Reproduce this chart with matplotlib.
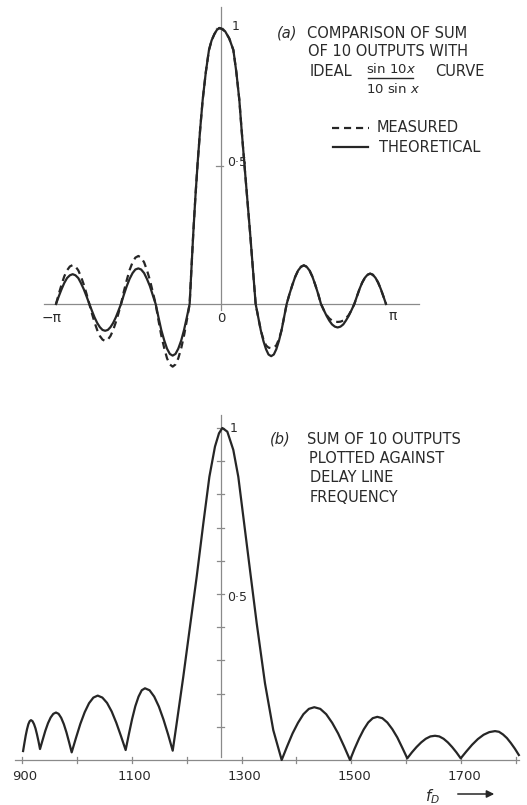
import matplotlib
matplotlib.use("Agg")
import matplotlib.pyplot as plt
from matplotlib.lines import Line2D
from matplotlib.patches import FancyArrowPatch

# ---------------- data: panel (a) ----------------
# x in units of pi
x_pi = [-1.000, -0.983, -0.966, -0.950, -0.933, -0.916, -0.899, -0.882, -0.865, -0.849, -0.832, -0.815,
        -0.798, -0.782, -0.766, -0.750, -0.734, -0.718, -0.702, -0.686, -0.670, -0.654, -0.638, -0.622,
        -0.606, -0.589, -0.571, -0.554, -0.536, -0.519, -0.501, -0.484, -0.466, -0.449, -0.431, -0.414,
        -0.396, -0.379, -0.362, -0.344, -0.327, -0.310, -0.293, -0.276, -0.259, -0.241, -0.224, -0.207,
        -0.190, -0.179, -0.168, -0.155, -0.141, -0.126, -0.111, -0.092, -0.073, -0.057, -0.040, -0.025,
        -0.010, 0.005, 0.025, 0.050, 0.075, 0.093, 0.111, 0.125, 0.140, 0.158, 0.176, 0.193,
        0.210, 0.226, 0.241, 0.257, 0.273, 0.288, 0.304, 0.320, 0.335, 0.351, 0.367, 0.382,
        0.398, 0.415, 0.433, 0.450, 0.467, 0.485, 0.502, 0.519, 0.537, 0.554, 0.571, 0.589,
        0.606, 0.623, 0.640, 0.656, 0.673, 0.690, 0.707, 0.724, 0.741, 0.757, 0.774, 0.791,
        0.808, 0.824, 0.840, 0.856, 0.872, 0.888, 0.904, 0.920, 0.936, 0.952, 0.968, 0.984, 1.000]

theoretical = [0, 0.028, 0.054, 0.076, 0.094, 0.104, 0.108, 0.104, 0.094, 0.076, 0.054, 0.028,
               0, -0.025, -0.049, -0.069, -0.084, -0.094, -0.097, -0.094, -0.084, -0.069, -0.049, -0.025,
               0, 0.033, 0.065, 0.091, 0.112, 0.125, 0.129, 0.125, 0.112, 0.091, 0.065, 0.033,
               0, -0.048, -0.094, -0.132, -0.162, -0.181, -0.187, -0.181, -0.162, -0.132, -0.094, -0.048,
               0, 0.130, 0.257, 0.390, 0.516, 0.635, 0.740, 0.840, 0.920, 0.955, 0.978, 0.993,
               1.000, 0.997, 0.988, 0.962, 0.920, 0.840, 0.740, 0.630, 0.520, 0.390, 0.260, 0.130,
               0, -0.049, -0.095, -0.134, -0.164, -0.183, -0.189, -0.183, -0.164, -0.134, -0.095, -0.049,
               0, 0.036, 0.070, 0.099, 0.121, 0.135, 0.140, 0.135, 0.121, 0.099, 0.070, 0.036,
               0, -0.022, -0.043, -0.060, -0.074, -0.082, -0.085, -0.082, -0.074, -0.060, -0.043, -0.022,
               0, 0.028, 0.055, 0.078, 0.095, 0.106, 0.110, 0.106, 0.095, 0.078, 0.055, 0.028, 0]

measured = [0, 0.037, 0.071, 0.100, 0.122, 0.136, 0.141, 0.136, 0.122, 0.100, 0.071, 0.037,
            0, -0.035, -0.067, -0.095, -0.116, -0.129, -0.134, -0.129, -0.116, -0.095, -0.067, -0.035,
            0, 0.045, 0.087, 0.123, 0.151, 0.168, 0.174, 0.168, 0.151, 0.123, 0.087, 0.045,
            0, -0.059, -0.114, -0.160, -0.197, -0.219, -0.227, -0.219, -0.197, -0.160, -0.114, -0.059,
            0, 0.130, 0.257, 0.390, 0.516, 0.635, 0.740, 0.840, 0.920, 0.955, 0.978, 0.993,
            1.000, 0.997, 0.988, 0.962, 0.920, 0.840, 0.740, 0.630, 0.520, 0.390, 0.260, 0.130,
            0, -0.049, -0.095, -0.128, -0.150, -0.158, -0.160, -0.158, -0.150, -0.128, -0.095, -0.049,
            0, 0.036, 0.070, 0.099, 0.121, 0.135, 0.140, 0.135, 0.121, 0.099, 0.070, 0.036,
            0, -0.022, -0.040, -0.052, -0.060, -0.064, -0.065, -0.064, -0.060, -0.052, -0.040, -0.022,
            0, 0.028, 0.055, 0.078, 0.095, 0.106, 0.110, 0.106, 0.095, 0.078, 0.055, 0.028, 0]

# ---------------- data: panel (b) ----------------
freq_b = [902.0, 904.4, 906.8, 909.2, 911.6, 914.0, 916.4, 919.1, 921.9, 924.6, 927.3, 930.1,
          932.8, 937.7, 942.5, 947.4, 952.2, 957.0, 961.9, 966.7, 971.4, 976.2, 981.0, 985.7,
          990.5, 998.4, 1006.3, 1014.2, 1022.1, 1030.0, 1037.9, 1046.4, 1054.9, 1063.4, 1071.8, 1080.3,
          1088.8, 1094.7, 1100.5, 1106.4, 1112.3, 1118.1, 1124.0, 1132.4, 1140.8, 1149.3, 1157.7, 1166.1,
          1174.5, 1181.7, 1193.8, 1206.0, 1218.2, 1230.3, 1241.3, 1251.5, 1258.8, 1264.9,
          1274.0, 1284.9, 1294.0, 1303.1, 1315.3, 1327.5, 1342.6, 1357.7,
          1373.0, 1382.9, 1392.8, 1402.7, 1412.6, 1422.5, 1432.4, 1443.3, 1454.1, 1465.0, 1475.8, 1486.7,
          1497.5, 1505.8, 1514.1, 1522.4, 1530.6, 1538.9, 1547.2, 1556.3, 1565.4, 1574.5, 1583.6, 1592.7,
          1601.8, 1610.2, 1618.6, 1627.1, 1635.5, 1643.9, 1652.3, 1660.1, 1667.9, 1675.7, 1683.5, 1691.3,
          1699.1, 1709.5, 1719.9, 1730.3, 1740.8, 1751.2, 1761.6, 1768.8, 1776.1, 1783.3, 1790.5, 1797.8,
          1805.0]

sum_b = [0.027, 0.051, 0.074, 0.093, 0.108, 0.117, 0.120, 0.117, 0.108, 0.095, 0.077, 0.056,
         0.033, 0.061, 0.088, 0.111, 0.128, 0.139, 0.143, 0.139, 0.127, 0.108, 0.083, 0.054,
         0.023, 0.067, 0.109, 0.144, 0.171, 0.188, 0.194, 0.188, 0.172, 0.146, 0.112, 0.072,
         0.030, 0.078, 0.123, 0.162, 0.191, 0.210, 0.216, 0.210, 0.191, 0.161, 0.122, 0.077,
         0.028, 0.110, 0.251, 0.402, 0.552, 0.713, 0.853, 0.944, 0.984, 1.000,
         0.989, 0.934, 0.853, 0.733, 0.572, 0.412, 0.231, 0.090,
         0.000, 0.041, 0.080, 0.112, 0.138, 0.154, 0.159, 0.154, 0.138, 0.112, 0.080, 0.041,
         0.000, 0.034, 0.065, 0.092, 0.113, 0.126, 0.130, 0.126, 0.113, 0.093, 0.068, 0.037,
         0.005, 0.023, 0.039, 0.053, 0.064, 0.071, 0.073, 0.071, 0.064, 0.053, 0.039, 0.023,
         0.005, 0.026, 0.046, 0.063, 0.076, 0.084, 0.087, 0.085, 0.077, 0.066, 0.051, 0.034,
         0.015]

freq_ticks = [900, 1000, 1100, 1200, 1300, 1400, 1500, 1600, 1700, 1800]
freq_labels = {900: "900", 1100: "1100", 1300: "1300", 1500: "1500", 1700: "1700"}
amp_ticks_b = [0.1, 0.2, 0.3, 0.4, 0.5, 0.6, 0.7, 0.8, 0.9, 1.0]

# ---------------- figure ----------------
W, H = 527, 805
fig = plt.figure(figsize=(W / 100, H / 100), dpi=100)
fig.patch.set_facecolor("white")

CURVE = "#262626"
AXC = "#8a8a8a"
TXT = "#2a2a2a"
FS = 10.5


def fx(px):
    return px / W


def fy(py):
    return 1 - py / H


def ftext(x, y, s, **kw):
    kw.setdefault("color", TXT)
    kw.setdefault("fontsize", FS)
    kw.setdefault("va", "center")
    kw.setdefault("ha", "left")
    fig.text(fx(x), fy(y), s, **kw)


def fline(x0, x1, y0, y1, **kw):
    fig.add_artist(Line2D([fx(x0), fx(x1)], [fy(y0), fy(y1)],
                          transform=fig.transFigure, **kw))


# ---- panel (a) axes: occupies pixel rows 0..400
ax1 = fig.add_axes([0, 1 - 400 / H, 1, 400 / H])
ax1.set_axis_off()
x0px, sx = 221, 165.0      # pixel of x=0, pixels per pi
y0px, sy = 304, 276.0      # pixel of y=0 within panel, pixels per unit
ax1.set_xlim(-x0px / sx, (W - x0px) / sx)
ax1.set_ylim(-(400 - y0px) / sy, y0px / sy)

ax1.plot([-1.073, 1.2], [0, 0], color=AXC, lw=0.9)
ax1.plot([0, 0], [-0.02, 1.076], color=AXC, lw=0.9)
for v in [0.5, 1.0]:
    ax1.plot([-5 / sx, 2 / sx], [v, v], color=AXC, lw=0.9)

ax1.plot(x_pi, theoretical, color=CURVE, lw=1.6, solid_joinstyle="round")
ax1.plot(x_pi, measured, color=CURVE, lw=1.6, linestyle=(0, (3.2, 2.2)))

# ---- panel (b) axes: occupies pixel rows 400..805
ax2 = fig.add_axes([0, 0, 1, 405 / H])
ax2.set_axis_off()
fpx0, fsx = 22.0, 0.549     # pixel of 900, pixels per unit frequency
b0px, bsy = 760 - 400, 332.0
ax2.set_xlim(900 - fpx0 / fsx, 900 + (W - fpx0) / fsx)
ax2.set_ylim(-(405 - b0px) / bsy, b0px / bsy)

ax2.plot([887, 1805], [0, 0], color=AXC, lw=0.9)
for f in freq_ticks:
    ax2.plot([f, f], [-3 / bsy, 3 / bsy], color=AXC, lw=0.9)
f_axis = 1263
ax2.plot([f_axis, f_axis], [0.01, 1.04], color=AXC, lw=0.9)
for v in amp_ticks_b:
    ax2.plot([f_axis - 4 / fsx, f_axis + 3 / fsx], [v, v], color=AXC, lw=0.9)

ax2.plot(freq_b, sum_b, color=CURVE, lw=1.6, solid_joinstyle="round")

# ---------------- text: panel (a) ----------------
ftext(277, 33, "(a)", style="italic")
ftext(307, 33, "COMPARISON OF SUM")
ftext(308, 52, "OF 10 OUTPUTS WITH")
ftext(310, 71, "IDEAL")
ftext(391, 69, "sin 10$\\it{x}$", ha="center", fontsize=9.5)
fline(368, 413, 78, 78, color=TXT, lw=1.0)
ftext(393, 89, "10 sin $\\it{x}$", ha="center", fontsize=9.5)
ftext(435, 71, "CURVE")
fline(332, 369, 128, 128, color=CURVE, lw=1.6, linestyle=(0, (3.2, 2.2)))
ftext(377, 128, "MEASURED")
fline(333, 368, 147, 147, color=CURVE, lw=1.6)
ftext(379, 148, "THEORETICAL")

ftext(232, 27, "1", fontsize=9)
ftext(227, 162, "0·5", fontsize=9)
ftext(221, 318, "0", fontsize=9.5, ha="center")
ftext(52, 318, "−π", fontsize=10, ha="center")
ftext(393, 316, "π", fontsize=10, ha="center")

# ---------------- text: panel (b) ----------------
ftext(270, 439, "(b)", style="italic")
ftext(307, 439, "SUM OF 10 OUTPUTS")
ftext(309, 458, "PLOTTED AGAINST")
ftext(310, 477, "DELAY LINE")
ftext(310, 497, "FREQUENCY")

for f, lab in freq_labels.items():
    ftext(fpx0 + (f - 900) * fsx + 3, 776, lab, fontsize=9.5, ha="center")
ftext(230, 428, "1", fontsize=9)
ftext(227, 597, "0·5", fontsize=9)

ftext(433, 797, "$f_D$", fontsize=11, ha="center")
fig.add_artist(FancyArrowPatch((fx(455), fy(794)), (fx(497), fy(794)),
                               transform=fig.transFigure, arrowstyle="-|>",
                               mutation_scale=11, lw=1.1, color=CURVE))

fig.savefig("out.png", dpi=100)
